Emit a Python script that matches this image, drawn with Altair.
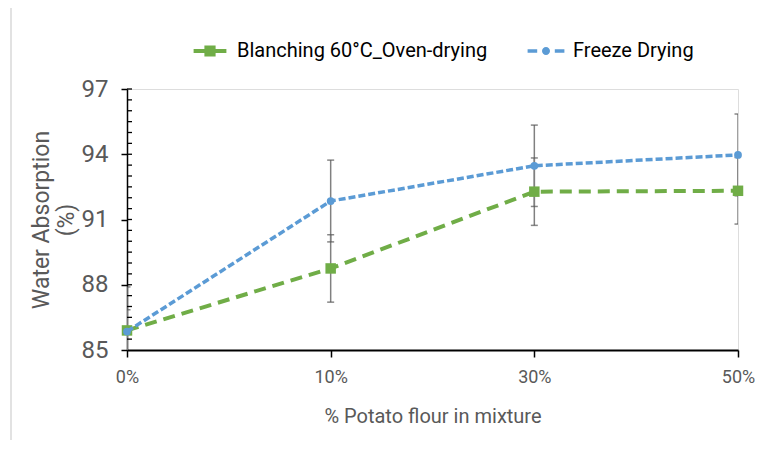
import altair as alt
import pandas as pd

# ---- data ----
categories = ["0%", "10%", "30%", "50%"]
series_names = ["Blanching 60°C_Oven-drying", "Freeze Drying"]
oven_values = [85.9, 88.75, 92.28, 92.32]
oven_errors = [2.0, 1.55, 1.55, 1.53]
freeze_values = [85.85, 91.85, 93.47, 93.97]
freeze_errors = [1.0, 1.88, 1.87, 1.88]
series_colors = ["#70AD47", "#5B9BD5"]
y_major_ticks = [85, 88, 91, 94, 97]
y_minor_ticks = [85.5, 86, 86.5, 87, 87.5, 88, 88.5, 89, 89.5, 90, 90.5, 91,
                 91.5, 92, 92.5, 93, 93.5, 94, 94.5, 95, 95.5, 96, 96.5, 97]

FONT = "Roboto, sans-serif"
GREY = "#595959"

rows = []
for name, vals, errs in [(series_names[0], oven_values, oven_errors),
                         (series_names[1], freeze_values, freeze_errors)]:
    for c, v, e in zip(categories, vals, errs):
        rows.append({"cat": c, "series": name, "value": v, "lo": v - e, "hi": v + e})
df = pd.DataFrame(rows)

x_enc = alt.X("cat:N", sort=categories,
              scale=alt.Scale(type="point", padding=0, domain=categories),
              axis=alt.Axis(title="% Potato flour in mixture", labelAngle=0,
                            domainColor="black", domainWidth=1.8, tickColor="black",
                            tickWidth=1.5, tickSize=7, labelFontSize=18,
                            labelColor=GREY, labelPadding=11, titleFontSize=20,
                            titleColor=GREY, titleFontWeight="normal",
                            titlePadding=20, labelFont=FONT, titleFont=FONT,
                            grid=False))
y_scale = alt.Scale(domain=[85, 97], nice=False, zero=False)
y_enc = alt.Y("value:Q", scale=y_scale,
              axis=alt.Axis(values=y_major_ticks, title=["Water Absorption", "(%)"],
                            domainColor="black", domainWidth=1.5, tickColor="black",
                            tickWidth=1.5, tickSize=6, labelFontSize=24,
                            labelColor=GREY, labelPadding=13, titleFontSize=23,
                            titleColor=GREY, titleFontWeight="normal",
                            titlePadding=3, labelFont=FONT, titleFont=FONT,
                            grid=False))

base = alt.Chart(df)

err_rule = base.mark_rule(color="#808080", strokeWidth=1.5, clip=True).encode(
    x=x_enc, y=alt.Y("lo:Q", scale=y_scale), y2="hi:Q")
cap_lo = base.mark_tick(color="#555555", thickness=1.5, size=7, clip=True).encode(
    x=x_enc, y=alt.Y("lo:Q", scale=y_scale))
cap_hi = base.mark_tick(color="#555555", thickness=1.5, size=7, clip=True).encode(
    x=x_enc, y=alt.Y("hi:Q", scale=y_scale))

oven = base.transform_filter(alt.datum.series == series_names[0])
freeze = base.transform_filter(alt.datum.series == series_names[1])

oven_line = oven.mark_line(color=series_colors[0], strokeWidth=4,
                           strokeDash=[12, 7]).encode(x=x_enc, y=y_enc)
oven_pts = oven.mark_point(shape="square", filled=True, opacity=1, size=110,
                           color=series_colors[0]).encode(x=x_enc, y=y_enc)
freeze_line = freeze.mark_line(color=series_colors[1], strokeWidth=3.5,
                               strokeDash=[7, 3]).encode(x=x_enc, y=y_enc)
freeze_pts = freeze.mark_point(shape="circle", filled=True, opacity=1, size=60,
                               color=series_colors[1]).encode(x=x_enc, y=y_enc)

# inner tick marks of the y axis (Excel style)
minor_df = pd.DataFrame({"t": y_minor_ticks})
minor = alt.Chart(minor_df).mark_rule(color="black", strokeWidth=1.3).encode(
    y=alt.Y("t:Q", scale=y_scale), x=alt.value(0), x2=alt.value(5))

# legend with Excel-like line+marker symbols
green_sym = ("M-2.05,-0.25H-0.7V0.25H-2.05Z M-0.7,-0.7H0.7V0.7H-0.7Z "
             "M0.7,-0.25H2.05V0.25H0.7Z")
blue_sym = ("M-2.3,-0.22H-1.1V0.22H-2.3Z M-0.5,0A0.5,0.5 0 1,1 0.5,0"
            "A0.5,0.5 0 1,1 -0.5,0Z M1.1,-0.22H2.3V0.22H1.1Z")
leg_args = dict(title=None, orient="none", direction="horizontal",
                legendX=73, legendY=-48, symbolSize=256,
                symbolStrokeWidth=0, labelOffset=17,
                columnPadding=39, labelFontSize=20,
                labelColor="black", labelFont=FONT,
                padding=0, labelLimit=400)
leg_df = pd.DataFrame({"cat": ["0%", "0%"], "series": series_names, "value": [80, 80]})
legend_layer = alt.Chart(leg_df).mark_point(filled=True, opacity=1, clip=True).encode(
    x=x_enc, y=y_enc,
    fill=alt.Fill("series:N", sort=series_names,
                  scale=alt.Scale(domain=series_names, range=series_colors),
                  legend=alt.Legend(**leg_args)),
    shape=alt.Shape("series:N", sort=series_names,
                    scale=alt.Scale(domain=series_names, range=[green_sym, blue_sym]),
                    legend=alt.Legend(**leg_args)),
)

frame_df = pd.DataFrame({"k": [0]})
frame = alt.Chart(frame_df).mark_rect(fill="transparent", stroke="#d9d9d9",
                                      strokeWidth=1.5, clip=False).encode(
    x=alt.value(-116), x2=alt.value(640), y=alt.value(-82), y2=alt.value(372))

chart = alt.layer(
    frame, err_rule, cap_lo, cap_hi, minor,
    oven_line, oven_pts, freeze_line, freeze_pts, legend_layer
).properties(
    width=611, height=261,
    autosize=alt.AutoSizeParams(type="none"),
    padding={"left": 119, "top": 81, "right": 17, "bottom": 90},
).configure_view(stroke=None).configure(background="white")

chart.save("out.html", embed_options={"renderer": "svg", "actions": False})
